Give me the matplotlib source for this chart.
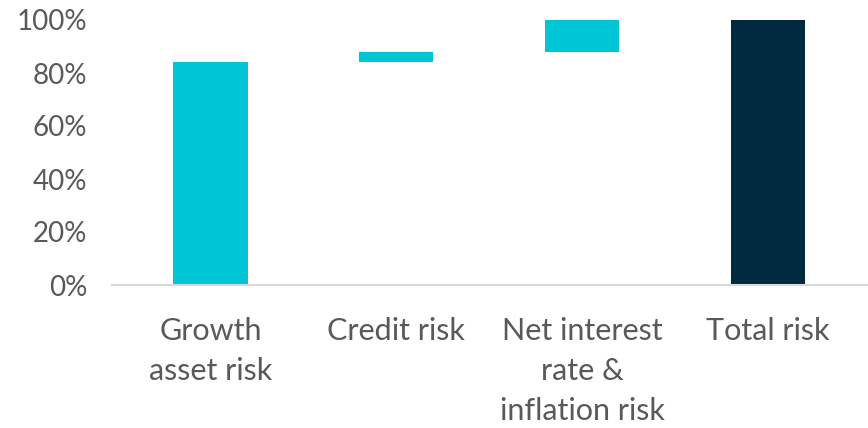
import matplotlib.pyplot as plt
import matplotlib.ticker as ticker

categories = ["Growth\nasset risk", "Credit risk",
              "Net interest\nrate &\ninflation risk", "Total risk"]
bottoms = [0.0, 0.84, 0.88, 0.0]
heights = [0.84, 0.04, 0.12, 1.00]
colors = ["#00C5D7", "#00C5D7", "#00C5D7", "#002A40"]
y_ticks = [0.0, 0.2, 0.4, 0.6, 0.8, 1.0]


def main():
    plt.rcParams["font.family"] = ["Lato", "DejaVu Sans"]
    fig = plt.figure(figsize=(8.68, 4.28), dpi=100)
    ax = fig.add_axes([112 / 868, 1 - 285 / 428, 1 - 112 / 868, 265 / 428])

    x = range(len(categories))
    ax.bar(x, heights, bottom=bottoms, width=0.4, color=colors)

    ax.set_xlim(-0.53, 3.54)
    ax.set_ylim(0, 1)
    ax.set_yticks(y_ticks)
    ax.yaxis.set_major_formatter(ticker.FuncFormatter(lambda v, _: f"{v * 100:.0f}%"))
    ax.set_xticks(list(x))
    ax.set_xticklabels(categories, linespacing=1.52, fontsize=22)

    for side in ["top", "right", "left"]:
        ax.spines[side].set_visible(False)
    ax.spines["bottom"].set_color("#D9D9D9")
    ax.spines["bottom"].set_linewidth(1.5)
    ax.tick_params(axis="both", length=0, labelcolor="#595959")
    ax.tick_params(axis="y", pad=18, labelsize=20)
    ax.tick_params(axis="x", pad=23)
    for lbl in ax.get_xticklabels():
        lbl.set_verticalalignment("top")

    plt.savefig("out.png", dpi=100)


if __name__ == "__main__":
    main()
